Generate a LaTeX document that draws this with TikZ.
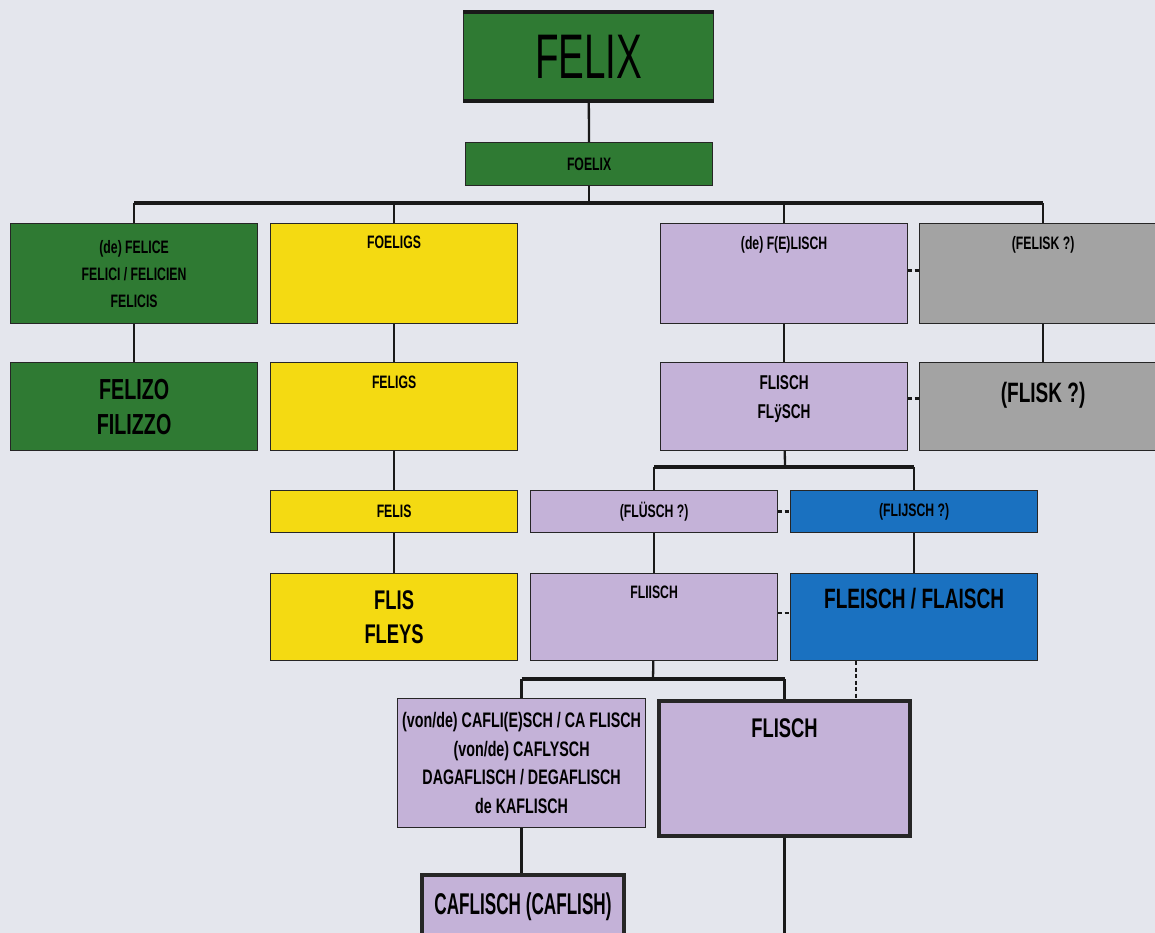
\documentclass[tikz,border=0pt]{standalone}
\usepackage{fontspec}
\setmainfont{Liberation Sans}[FakeStretch=0.68]
\usetikzlibrary{positioning,calc}
\definecolor{paper}{HTML}{E4E6ED}
\definecolor{felgreen}{HTML}{2F7A33}
\definecolor{felyellow}{HTML}{F4DA12}
\definecolor{fellilac}{HTML}{C4B2D8}
\definecolor{felgrey}{HTML}{A3A3A3}
\definecolor{felblue}{HTML}{1A71C0}
\tikzset{box/.style={draw=black!85,line width=1.2pt,rectangle,anchor=north west,inner sep=0pt,align=center,text=black,minimum width=247pt},
grn/.style={box,fill=felgreen},yel/.style={box,fill=felyellow},lil/.style={box,fill=fellilac},
gry/.style={box,fill=felgrey},blu/.style={box,fill=felblue},
txt/.style={inner sep=0pt,align=center,text=black},
txtS/.style={font=\bfseries\fontsize{18}{27}\selectfont},
txtM/.style={font=\bfseries\fontsize{21}{28.5}\selectfont},
txtL/.style={font=\bfseries\fontsize{28}{34.5}\selectfont},
conn/.style={draw=black!90,line width=2.3pt},
trunk/.style={draw=black!90,line width=3.6pt},
link/.style={draw=black!90,line width=2.5pt,dash pattern=on 4pt off 2.5pt},
heavy/.style={line width=4pt}}
\begin{document}
\begin{tikzpicture}[x=1pt,y=-1pt]
	\fill[paper] (0,0) rectangle (1155,933);
	\useasboundingbox (0,0) rectangle (1155,933);
	\clip (0,0) rectangle (1155,933);

	% top of the tree
	\node[grn,minimum width=250pt,minimum height=88pt,font=\fontsize{63}{63}\selectfont] (felix) at (463,12) {\scalebox{0.9}[1]{FELIX}};
	\node[grn,minimum height=43pt,txtS] (foelix) at (465,142) {FOELIX};
	\draw[black!90,heavy] (felix.north west) -- (felix.north east);
	\draw[black!90,heavy] (felix.south west) -- (felix.south east);

	% first and second rows
	\node[grn,minimum height=100pt,txtS] (felice) at (10,223) {(de) FELICE\\FELICI / FELICIEN\\FELICIS};
	\node[yel,minimum height=100pt] (foeligs) at (270,223) {};
	\node[lil,minimum height=100pt] (felisch) at (660,223) {};
	\node[gry,minimum height=100pt] (felisk) at (919,223) {};
	\node[txt,txtS,below=13pt of foeligs.north] (foeligsT) {FOELIGS};
	\node[txt,txtS,below=13pt of felisch.north] (felischT) {(de) F(E)LISCH};
	\node[txt,txtS,below=13pt of felisk.north] (feliskT) {(FELISK ?)};

	\node[grn,minimum height=88pt,font=\bfseries\fontsize{29}{35}\selectfont] (felizo) at (10,362) {FELIZO\\FILIZZO};
	\node[yel,minimum height=88pt] (feligs) at (270,362) {};
	\node[lil,minimum height=88pt] (flysch) at (660,362) {};
	\node[gry,minimum height=88pt] (flisk) at (919,362) {};
	\node[txt,txtS,below=14pt of feligs.north] (feligsT) {FELIGS};
	\node[txt,font=\bfseries\fontsize{20}{29}\selectfont,below=13pt of flysch.north] (flyschT) {FLISCH\\FLÿSCH};
	\node[txt,txtL,below=20pt of flisk.north] (fliskT) {(FLISK ?)};

	% third and fourth rows
	\node[yel,minimum height=42pt,txtS] (felis) at (270,490) {FELIS};
	\node[lil,minimum height=42pt,txtS] (flusch) at (530,490) {(FLÜSCH ?)};
	\node[blu,minimum height=42pt,txtS] (flijsch) at (790,490) {(FLIJSCH ?)};

	\node[yel,minimum height=87pt,font=\bfseries\fontsize{27}{34}\selectfont] (flis) at (270,573) {FLIS\\FLEYS};
	\node[lil,minimum height=87pt] (fliisch) at (530,573) {};
	\node[blu,minimum height=87pt] (fleisch) at (790,573) {};
	\node[txt,txtS,below=13pt of fliisch.north] (fliischT) {FLIISCH};
	\node[txt,txtL,below=15pt of fleisch.north] (fleischT) {FLEISCH / FLAISCH};

	% bottom rows
	\node[lil,minimum width=248pt,minimum height=129pt,txtM] (cafli) at (397,698) {(von/de) CAFLI(E)SCH / CA FLISCH\\(von/de) CAFLYSCH\\DAGAFLISCH / DEGAFLISCH\\de KAFLISCH};
	\node[lil,heavy,minimum width=251pt,minimum height=135pt] (flischB) at (657,699) {};
	\node[txt,font=\bfseries\fontsize{27}{27}\selectfont,below=19pt of flischB.north] (flischBT) {FLISCH};
	\node[lil,heavy,minimum width=202pt,minimum height=63pt,font=\bfseries\fontsize{30}{30}\selectfont] (caflisch) at (420,873) {\scalebox{0.84}[1]{CAFLISCH (CAFLISH)}};

	% tree lines
	\coordinate (j1) at (588,203);
	\coordinate (j2) at (785,467);
	\coordinate (j3) at (653,679);
	\coordinate (d1) at (856,0);
	\coordinate (e1) at (782,933);
	\draw[conn] (felix) -- (foelix);
	\draw[conn] (foelix) -- (foelix |- j1);
	\draw[trunk] (felice.north |- j1) -- (felisk.north |- j1);
	\foreach \n in {felice,foeligs,felisch,felisk}
		\draw[conn] (\n.north) -- (\n.north |- j1);
	\draw[conn] (flysch) -- (j2);
	\draw[trunk] (flusch.north |- j2) -- (flijsch.north |- j2);
	\foreach \n in {flusch,flijsch}
		\draw[conn] (\n.north) -- (\n.north |- j2);
	\draw[conn] (fliisch) -- (j3);
	\draw[trunk] (cafli.north |- j3) -- (flischB.north |- j3);
	\foreach \n in {cafli,flischB}
		\draw[conn] (\n.north) -- (\n.north |- j3);
	\foreach \a/\b in {felice/felizo,foeligs/feligs,feligs/felis,felis/flis,felisch/flysch,felisk/flisk,flusch/fliisch,flijsch/fleisch}
		\draw[conn] (\a) -- (\b);
	\draw[conn] (cafli) -- (cafli.south |- caflisch.north);
	\draw[conn] (flischB) -- (flischB.south |- e1);

	% dashed links
	\draw[link] ([yshift=3pt]felisch.east) -- ([yshift=3pt]felisk.west);
	\draw[link] ([yshift=8pt]flysch.east) -- ([yshift=8pt]flisk.west);
	\draw[link] (flusch) -- (flijsch);
	\draw[link] ([yshift=4pt]fliisch.east) -- ([yshift=4pt]fleisch.west);
	\draw[link] (fleisch.south -| d1) -- (flischB.north -| d1);
\end{tikzpicture}
\end{document}
